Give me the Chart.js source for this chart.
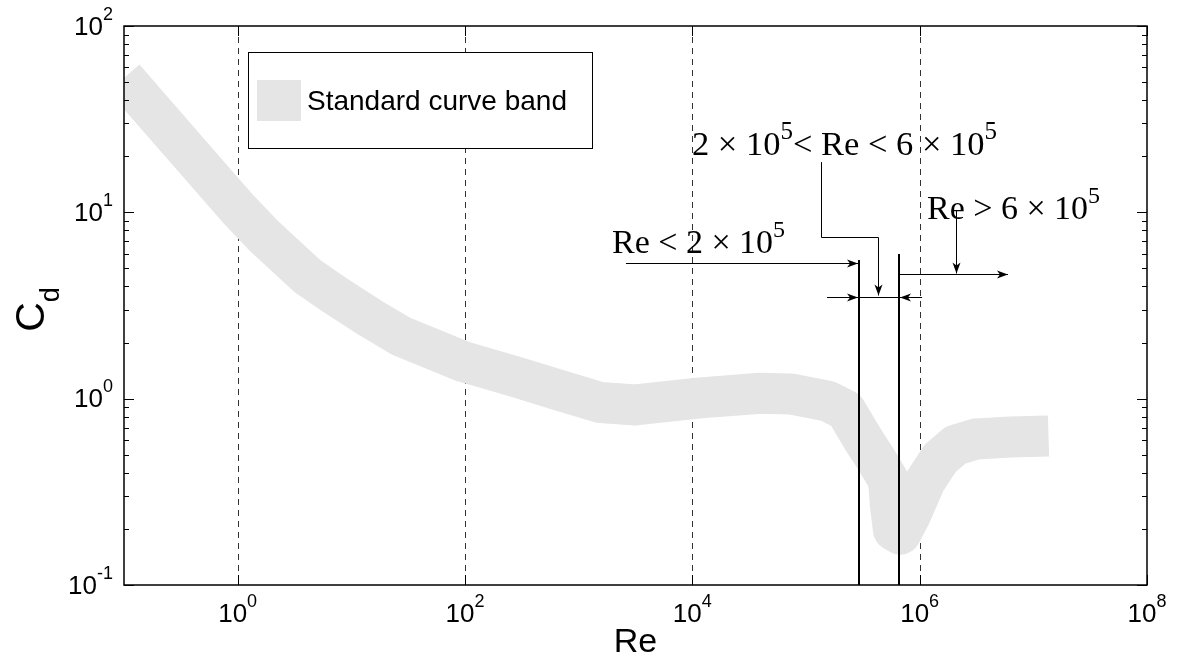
<!DOCTYPE html>
<html><head><meta charset="utf-8">
<script src="https://cdn.jsdelivr.net/npm/chart.js@4.4.0/dist/chart.umd.min.js"></script>
<style>html,body{margin:0;padding:0;background:#fff;} #wrap{width:1178px;height:665px;position:relative;}</style>
</head><body><div id="wrap"><canvas id="c" width="1178" height="665"></canvas></div>
<script>
// ---- data ----
const bandLabel = 'Standard curve band';
const bandRe = [0.1, 0.314, 1.0, 1.69, 4.11, 6.97, 14.7, 27.1, 97, 290,
  692, 1557, 3162, 1.18e4, 3.98e4, 7.31e4, 1.55e5, 2.23e5, 3.2e5, 4.17e5,
  5.31e5, 5.53e5, 5.88e5, 6.77e5, 8.3e5, 1.12e6, 1.52e6, 2.07e6, 3.1e6, 6.3e6, 1.36e7];
const bandCd = [52.6, 23.6, 10.5, 7.5, 4.55, 3.64, 2.71, 2.17, 1.58, 1.30,
  1.105, 0.953, 0.925, 1.01, 1.07, 1.06, 0.97, 0.869, 0.600, 0.468,
  0.366, 0.268, 0.197, 0.1875, 0.237, 0.361, 0.480, 0.563, 0.607, 0.622, 0.630];
const xTickExps = [0, 2, 4, 6, 8];
const xGridExps = [0, 2, 4, 6];
const yTickExps = [-1, 0, 1, 2];
const regimeBoundsRe = [2.95e5, 6.6e5];
const regimeBoundsTopCd = [5.55, 5.97];
const xTitle = 'Re';
const yTitle = ['C', 'd'];

// annotation texts (rich parts: [text, isSuperscript])
const labelLow = [['Re < 2 × 10', false], ['5', true]];
const labelMid = [['2 × 10', false], ['5', true], ['< Re < 6 × 10', false], ['5', true]];
const labelHigh = [['Re > 6 × 10', false], ['5', true]];

const ctxEl = document.getElementById('c');
const BAND_COLOR = '#e5e5e5';
const SANS = '"Liberation Sans", Arial, Helvetica, sans-serif';
const SERIF = '"Liberation Serif", "Times New Roman", serif';

function drawRich(ctx, parts, x, y, F, s, raise, family) {
  let cx = x;
  ctx.textAlign = 'left';
  ctx.textBaseline = 'alphabetic';
  for (const [t, sup] of parts) {
    ctx.font = (sup ? s : F) + 'px ' + family;
    ctx.fillText(t, cx, sup ? y - raise : y);
    cx += ctx.measureText(t).width;
  }
  return cx - x;
}
function richWidth(ctx, parts, F, s, family) {
  let w = 0;
  for (const [t, sup] of parts) { ctx.font = (sup ? s : F) + 'px ' + family; w += ctx.measureText(t).width; }
  return w;
}
function arrowHead(ctx, tx, ty, dx, dy) {
  const L = 11, W = 4, N = 3;
  const px = -dy, py = dx;
  ctx.beginPath();
  ctx.moveTo(tx, ty);
  ctx.lineTo(tx - L * dx + W * px, ty - L * dy + W * py);
  ctx.lineTo(tx - (L - N) * dx, ty - (L - N) * dy);
  ctx.lineTo(tx - L * dx - W * px, ty - L * dy - W * py);
  ctx.closePath();
  ctx.fill();
}
function arrow(ctx, x1, y1, x2, y2) {
  ctx.beginPath(); ctx.moveTo(x1, y1); ctx.lineTo(x2, y2); ctx.stroke();
  const len = Math.hypot(x2 - x1, y2 - y1);
  arrowHead(ctx, x2, y2, (x2 - x1) / len, (y2 - y1) / len);
}

const gridPlugin = {
  id: 'grid',
  beforeDatasetsDraw(chart) {
    const { ctx, chartArea: a, scales: { x } } = chart;
    ctx.save();
    ctx.strokeStyle = '#333';
    ctx.lineWidth = 1;
    ctx.setLineDash([6, 5]);
    for (const e of xGridExps) {
      const px = Math.round(x.getPixelForValue(10 ** e)) + 0.5;
      ctx.beginPath(); ctx.moveTo(px, a.top); ctx.lineTo(px, a.bottom); ctx.stroke();
    }
    ctx.restore();
  }
};

const decorPlugin = {
  id: 'decor',
  afterDatasetsDraw(chart) {
    const { ctx, chartArea: a, scales: { x, y } } = chart;
    const X = v => x.getPixelForValue(v), Y = v => y.getPixelForValue(v);
    ctx.save();
    ctx.fillStyle = '#000';
    ctx.strokeStyle = '#000';

    // regime boundaries
    ctx.lineWidth = 2;
    regimeBoundsRe.forEach((re, i) => {
      const px = Math.round(X(re));
      ctx.beginPath(); ctx.moveTo(px, Y(regimeBoundsTopCd[i])); ctx.lineTo(px, a.bottom); ctx.stroke();
    });
    const xb0 = Math.round(X(regimeBoundsRe[0])), xb1 = Math.round(X(regimeBoundsRe[1]));

    ctx.lineWidth = 1;
    // low regime arrow
    const yLow = Math.round(Y(5.37)) + 0.5;
    arrow(ctx, X(2606), yLow, xb0 - 1, yLow);
    // gap line with two inward arrows
    const yGap = Math.round(Y(3.52)) + 0.5;
    ctx.beginPath(); ctx.moveTo(xb0, yGap); ctx.lineTo(xb1, yGap); ctx.stroke();
    arrow(ctx, X(1.53e5), yGap, xb0 - 1, yGap);
    arrow(ctx, X(1.05e6), yGap, xb1 + 1, yGap);
    // mid leader
    const lx = Math.round(X(1.355e5)) + 0.5, mx = Math.round(X(4.3e5)) + 0.5;
    const ly1 = Y(18.6), ly2 = Math.round(Y(7.38)) + 0.5;
    ctx.beginPath(); ctx.moveTo(lx, ly1); ctx.lineTo(lx, ly2); ctx.lineTo(mx, ly2); ctx.stroke();
    arrow(ctx, mx, ly2, mx, yGap - 2);
    // high regime arrow
    const yHigh = Math.round(Y(4.67)) + 0.5;
    arrow(ctx, xb1, yHigh, X(5.98e6), yHigh);
    const hx = Math.round(X(2.09e6)) + 0.5;
    arrow(ctx, hx, Y(10.3), hx, yHigh - 1);

    // annotation texts
    drawRich(ctx, labelLow, X(1963), Y(6.05), 34, 24, 16, SERIF);
    drawRich(ctx, labelMid, X(9930), Y(20.3), 34.5, 25, 16, SERIF);
    drawRich(ctx, labelHigh, X(1.16e6), Y(9.2), 34, 24, 16, SERIF);

    // y ticks (major + minor) on both sides
    ctx.lineWidth = 1;
    for (let e = yTickExps[0]; e < yTickExps[yTickExps.length - 1]; e++) {
      for (let m = 2; m <= 9; m++) {
        const py = Math.round(Y(m * 10 ** e)) + 0.5;
        ctx.beginPath();
        ctx.moveTo(a.left, py); ctx.lineTo(a.left + 5, py);
        ctx.moveTo(a.right, py); ctx.lineTo(a.right - 5, py);
        ctx.stroke();
      }
    }
    for (const e of yTickExps) {
      const py = Math.round(Y(10 ** e)) + 0.5;
      ctx.beginPath();
      ctx.moveTo(a.left, py); ctx.lineTo(a.left + 10, py);
      ctx.moveTo(a.right, py); ctx.lineTo(a.right - 10, py);
      ctx.stroke();
    }
    for (const e of xTickExps) {
      const px = Math.round(X(10 ** e)) + 0.5;
      ctx.beginPath();
      ctx.moveTo(px, a.bottom); ctx.lineTo(px, a.bottom - 10);
      ctx.moveTo(px, a.top); ctx.lineTo(px, a.top + 10);
      ctx.stroke();
    }

    // border
    ctx.lineWidth = 1.5;
    ctx.strokeRect(a.left, a.top, a.right - a.left, a.bottom - a.top);

    // tick labels
    for (const e of xTickExps) {
      const parts = [['10', false], [String(e), true]];
      const w = richWidth(ctx, parts, 26, 18, SANS);
      drawRich(ctx, parts, X(10 ** e) - w / 2, a.bottom + 37, 26, 18, 15, SANS);
    }
    for (const e of yTickExps) {
      const parts = [['10', false], [String(e), true]];
      const w = richWidth(ctx, parts, 26, 18, SANS);
      drawRich(ctx, parts, a.left - 11 - w, Y(10 ** e) + 8.5, 26, 18, 15, SANS);
    }

    // axis titles
    ctx.font = '34px ' + SANS;
    ctx.textAlign = 'center';
    ctx.fillText(xTitle, (a.left + a.right) / 2, 652);
    ctx.save();
    ctx.translate(44, (a.top + a.bottom) / 2 + 4);
    ctx.rotate(-Math.PI / 2);
    ctx.font = '41px ' + SANS; const wC = ctx.measureText(yTitle[0]).width;
    ctx.font = '27px ' + SANS; const wd = ctx.measureText(yTitle[1]).width;
    ctx.textAlign = 'left';
    ctx.font = '41px ' + SANS; ctx.fillText(yTitle[0], -(wC + wd) / 2, 0);
    ctx.font = '27px ' + SANS; ctx.fillText(yTitle[1], -(wC + wd) / 2 + wC, 15);
    ctx.restore();

    // legend
    const bx = a.left + 124, by = a.top + 26, bw = 344, bh = 96;
    ctx.fillStyle = '#fff';
    ctx.fillRect(bx, by, bw, bh);
    ctx.lineWidth = 1;
    ctx.strokeStyle = '#000';
    ctx.strokeRect(bx + 0.5, by + 0.5, bw, bh);
    ctx.fillStyle = chart.data.datasets[0].borderColor;
    ctx.fillRect(bx + 9, by + 28, 44, 41);
    ctx.fillStyle = '#000';
    ctx.font = '28px ' + SANS;
    ctx.textAlign = 'left';
    ctx.fillText(chart.data.datasets[0].label, bx + 59, by + 58);
    ctx.restore();
  }
};

new Chart(ctxEl, {
  type: 'line',
  data: {
    datasets: [{
      label: bandLabel,
      data: bandRe.map((r, i) => ({ x: r, y: bandCd[i] })),
      borderColor: BAND_COLOR,
      borderWidth: 41,
      borderCapStyle: 'butt',
      borderJoinStyle: 'round',
      tension: 0,
      pointRadius: 0,
      fill: false,
      clip: 0
    }]
  },
  options: {
    responsive: false,
    animation: false,
    layout: { padding: { left: 124, right: 31, top: 26, bottom: 80 } },
    plugins: { legend: { display: false }, tooltip: { enabled: false } },
    scales: {
      x: { type: 'logarithmic', min: 0.1, max: 1e8, display: false },
      y: { type: 'logarithmic', min: 0.1, max: 100, display: false }
    }
  },
  plugins: [gridPlugin, decorPlugin]
});
</script>
</body></html>
